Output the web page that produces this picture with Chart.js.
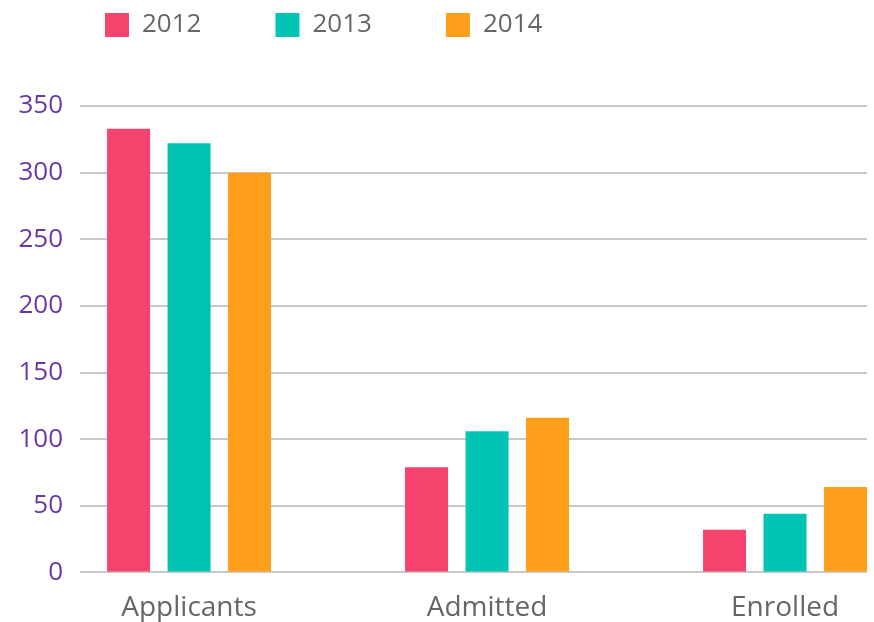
<!DOCTYPE html>
<html>
<head>
<meta charset="utf-8">
<script src="https://cdn.jsdelivr.net/npm/chart.js@4.4.0/dist/chart.umd.min.js"></script>
<style>
	html, body { margin: 0; padding: 0; background: #fff; }
</style>
</head>
<body>
<canvas id="mycanvas" width="874" height="622"></canvas>
<script>
var categories = ['Applicants', 'Admitted', 'Enrolled'];
var years = ['2012', '2013', '2014'];
var values2012 = [333, 79, 32];
var values2013 = [322, 106, 44];
var values2014 = [300, 116, 64];
var yTicks = [0, 50, 100, 150, 200, 250, 300, 350];
var colors = ['#f5436e', '#00c4b3', '#ff9e1b'];

var series = [values2012, values2013, values2014];
var datasets = [];
for (var i in series) {
	datasets.push({
		label: years[i],
		backgroundColor: colors[i],
		borderWidth: 0,
		data: series[i].map(function(v, j) { return {x: j, y: v}; })
	});
}

// legend: extra space below it, and nudge it right
var legendSpace = {
	id: 'legendSpace',
	beforeInit: function(chart) {
		var fit = chart.legend.fit;
		chart.legend.fit = function() {
			fit.bind(chart.legend)();
			this.height += 58;
		};
	},
	afterLayout: function(chart) {
		chart.legend.left += 21;
		chart.legend.right += 21;
	}
};

var ctx = document.getElementById('mycanvas');

var barGraph = new Chart(ctx, {
	type: 'bar',
	data: { datasets: datasets },
	plugins: [legendSpace],
	options: {
		responsive: false,
		animation: false,
		devicePixelRatio: 1,
		categoryPercentage: 0.609,
		barPercentage: 0.711,
		layout: { padding: { top: -62, left: 10, right: 7, bottom: -22 } },
		plugins: {
			tooltip: { enabled: false },
			legend: {
				position: 'top',
				align: 'start',
				labels: {
					boxWidth: 24,
					boxHeight: 24,
					padding: 74,
					color: '#666666',
					font: { family: 'Open Sans', size: 26 }
				}
			}
		},
		scales: {
			x: {
				type: 'linear',
				offset: false,
				min: -0.366,
				max: 2.275,
				grid: { display: false, drawTicks: false },
				border: { display: false },
				afterBuildTicks: function(s) {
					s.ticks = categories.map(function(c, j) { return {value: j}; });
				},
				ticks: {
					padding: 19,
					maxRotation: 0,
					color: '#666666',
					font: { family: 'Open Sans', size: 28 },
					callback: function(v) { return categories[v]; }
				}
			},
			y: {
				min: 0,
				max: 350,
				afterBuildTicks: function(s) {
					s.ticks = yTicks.map(function(v) { return {value: v}; });
				},
				afterFit: function(s) { s.width = 70; },
				grid: { color: '#c8c8c8', lineWidth: 2, drawTicks: false },
				border: { display: false },
				ticks: {
					padding: 17,
					color: '#6a38a4',
					font: { family: 'Open Sans', size: 26 }
				}
			}
		}
	}
});
</script>
</body>
</html>
